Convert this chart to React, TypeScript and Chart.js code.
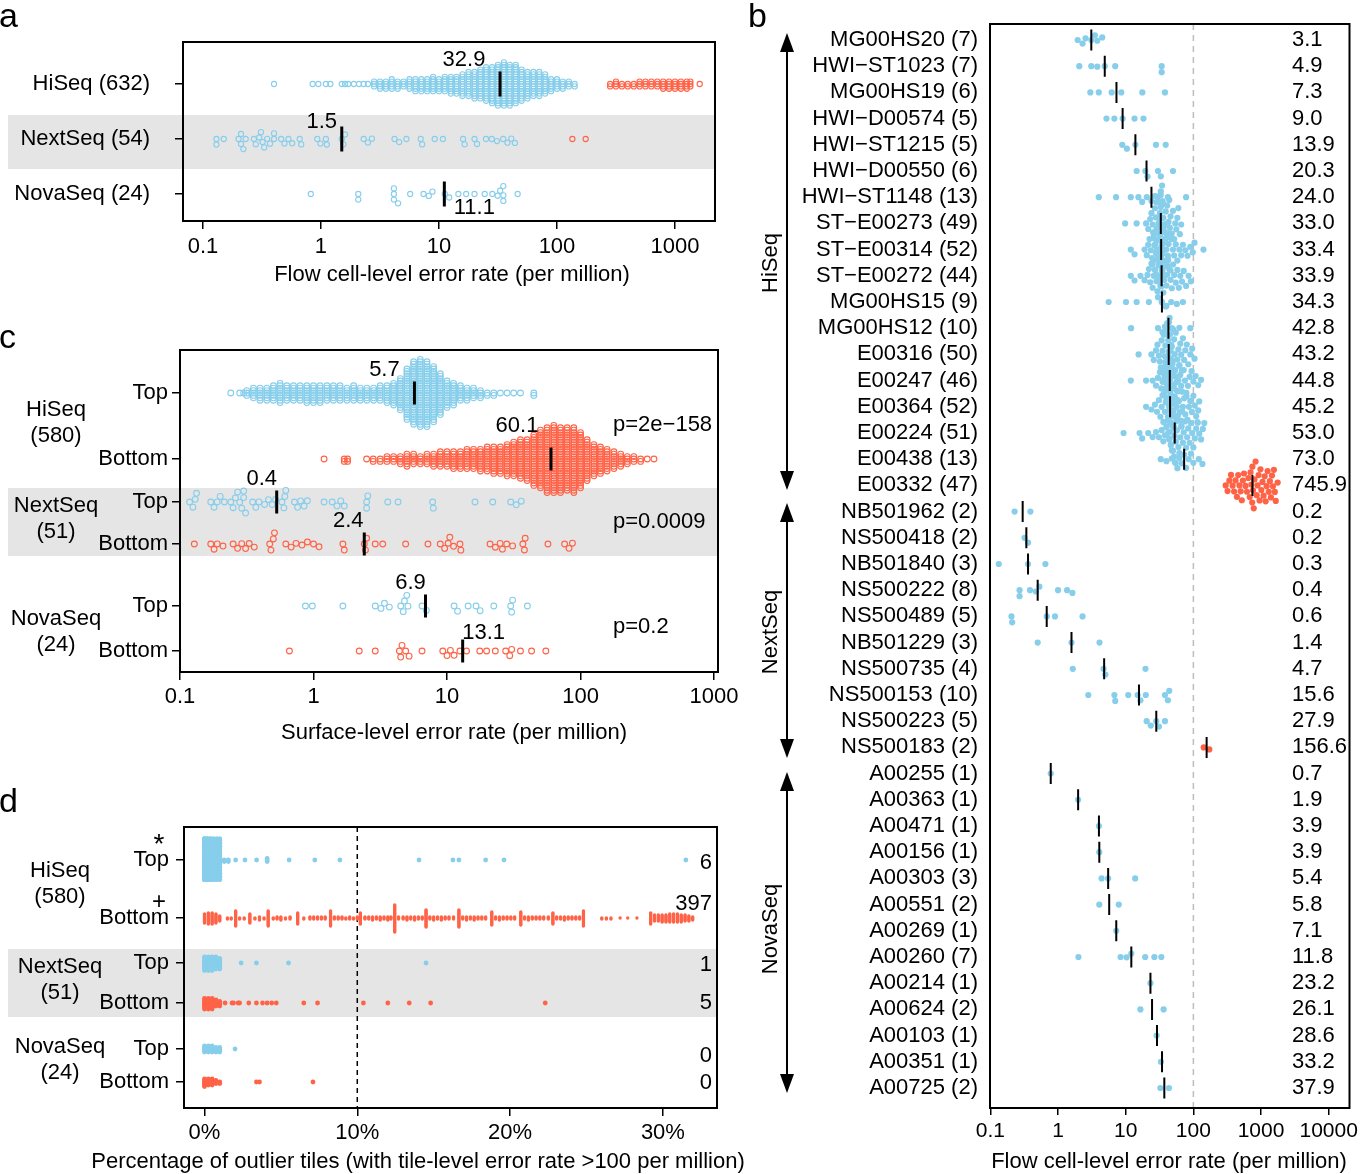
import React, { useEffect, useRef } from "react";
import { Chart, registerables } from "chart.js";

Chart.register(...registerables);

const FONT = '"Liberation Sans", Arial, Helvetica, sans-serif';
Chart.defaults.font.family = FONT;
Chart.defaults.font.size = 22;
Chart.defaults.color = "#000";

const BLUE = "#87CEEB";
const RED = "#FF6347";
const BAND = "#E5E5E5";

/* ======================= DATA ======================= */

/* ---- panel a : flow cell-level error rate per platform ---- */
const aRowLabels = ["HiSeq (632)", "NextSeq (54)", "NovaSeq (24)"];
const aMedians = [32.9, 1.5, 11.1];
const aMedianLabels = ["32.9", "1.5", "11.1"];
const aTicks = [0.1, 1, 10, 100, 1000];
const aTickLabels = ["0.1", "1", "10", "100", "1000"];
const aTitle = "Flow cell-level error rate (per million)";
// HiSeq: frequency table (value, number of flow cells)
const aHiSeqBlueValues = [0.4, 0.85, 0.95, 1.1, 1.2, 1.5, 1.6, 1.7, 1.9, 2.1, 2.3, 2.5, 2.82, 3.16, 3.55, 3.98, 4.47, 5.01, 5.62, 6.31, 7.08, 7.94, 8.91, 10, 11.2, 12.6, 14.1, 15.8, 17.8, 20, 22.4, 25.1, 28.2, 31.6, 35.5, 39.8, 44.7, 50.1, 56.2, 63.1, 70.8, 79.4, 89.1, 100, 112, 126, 141];
const aHiSeqBlueCounts = [1, 1, 1, 1, 1, 1, 1, 1, 1, 1, 1, 1, 3, 4, 4, 5, 4, 3, 5, 6, 6, 6, 7, 6, 7, 8, 8, 10, 11, 12, 13, 15, 16, 18, 19, 18, 17, 14, 12, 11, 11, 9, 6, 5, 4, 3, 2];
const aHiSeqRedValues = [282, 316, 355, 398, 447, 501, 562, 631, 708, 794, 891, 1000, 1122, 1259, 1350, 1620];
const aHiSeqRedCounts = [2, 3, 2, 2, 2, 3, 3, 3, 3, 4, 4, 4, 4, 4, 3, 1];
const aNextSeqBlue = [0.13, 0.13, 0.15, 0.2, 0.21, 0.21, 0.22, 0.23, 0.27, 0.28, 0.3, 0.31, 0.32, 0.33, 0.35, 0.37, 0.4, 0.4, 0.46, 0.49, 0.53, 0.57, 0.66, 0.68, 0.93, 0.99, 1.1, 1.12, 1.5, 1.55, 1.6, 2.3, 2.5, 2.7, 4.2, 4.6, 5.3, 7.0, 7.2, 9.2, 10.8, 16, 16.5, 20, 21, 25, 28, 31, 35, 38, 41, 44];
const aNextSeqRed = [135, 175];
const aNovaSeqBlue = [0.82, 2.07, 2.07, 4.15, 4.15, 4.15, 4.5, 5.7, 7.4, 8.2, 8.8, 11.2, 12.2, 14.6, 17, 20, 24.4, 28.3, 31.4, 33, 35.1, 35.1, 35.1, 46.4];

/* ---- panel c : surface-level error rate ---- */
const cRowLabels = ["Top", "Bottom", "Top", "Bottom", "Top", "Bottom"];
const cGroupNames = ["HiSeq", "NextSeq", "NovaSeq"];
const cGroupN = ["(580)", "(51)", "(24)"];
const cPValues = ["p=2e\u2212158", "p=0.0009", "p=0.2"];
const cMedians = [5.7, 60.1, 0.53, 2.4, 6.9, 13.1];
const cMedianLabels = ["5.7", "60.1", "0.4", "2.4", "6.9", "13.1"];
const cTicks = [0.1, 1, 10, 100, 1000];
const cTickLabels = ["0.1", "1", "10", "100", "1000"];
const cTitle = "Surface-level error rate (per million)";
const cHiSeqTopValues = [0.24, 0.28, 0.3, 0.316, 0.355, 0.398, 0.447, 0.501, 0.562, 0.631, 0.708, 0.794, 0.891, 1.0, 1.12, 1.26, 1.41, 1.58, 1.78, 2.0, 2.24, 2.51, 2.82, 3.16, 3.55, 3.98, 4.47, 5.01, 5.62, 6.31, 7.08, 7.94, 8.91, 10, 11.2, 12.6, 14.1, 15.8, 17.8, 20, 22.4, 25.1, 28.2, 31.6, 35.5, 44.7];
const cHiSeqTopCounts = [1, 1, 1, 3, 5, 6, 6, 7, 9, 7, 7, 7, 8, 8, 8, 7, 7, 7, 6, 7, 6, 6, 6, 7, 8, 10, 14, 22, 27, 29, 28, 24, 18, 12, 10, 7, 6, 5, 4, 2, 2, 1, 1, 1, 1, 2];
const cHiSeqBottomValues = [1.2, 1.7, 1.8, 2.5, 2.8, 3.16, 3.55, 3.98, 4.47, 5.01, 5.62, 6.31, 7.08, 7.94, 8.91, 10, 11.2, 12.6, 14.1, 15.8, 17.8, 20, 22.4, 25.1, 28.2, 31.6, 35.5, 39.8, 44.7, 50.1, 56.2, 63.1, 70.8, 79.4, 89.1, 100, 112, 126, 141, 158, 178, 200, 224, 251, 282, 316, 355];
const cHiSeqBottomCounts = [1, 2, 2, 1, 2, 2, 3, 3, 4, 6, 5, 4, 5, 6, 7, 7, 8, 8, 9, 9, 10, 11, 12, 12, 14, 15, 17, 18, 22, 25, 28, 29, 28, 27, 28, 24, 18, 14, 12, 10, 8, 6, 4, 3, 2, 1, 1];
const cNextSeqTop = [0.118, 0.125, 0.13, 0.133, 0.17, 0.18, 0.19, 0.2, 0.215, 0.24, 0.25, 0.26, 0.27, 0.28, 0.29, 0.3, 0.3, 0.31, 0.35, 0.37, 0.39, 0.43, 0.46, 0.49, 0.52, 0.58, 0.6, 0.61, 0.62, 0.72, 0.76, 0.8, 0.85, 0.9, 1.2, 1.38, 1.5, 1.6, 1.7, 2.5, 2.5, 2.55, 3.6, 4.3, 7.8, 7.9, 16.2, 22, 30, 33, 36];
const cNextSeqBottom = [0.128, 0.17, 0.18, 0.19, 0.21, 0.25, 0.27, 0.29, 0.31, 0.33, 0.36, 0.47, 0.48, 0.5, 0.51, 0.62, 0.68, 0.74, 0.82, 0.9, 1.0, 1.1, 1.66, 1.7, 2.4, 2.45, 2.5, 2.9, 3.3, 4.9, 7.2, 8.9, 9.6, 10.2, 10.5, 11.2, 12.5, 12.7, 21, 23, 25, 26, 28, 31, 37, 38, 38.5, 57, 76, 82, 87];
const cNovaSeqTop = [0.87, 0.98, 1.66, 2.9, 3.2, 3.4, 3.7, 4.5, 4.7, 4.8, 5.0, 5.1, 6.5, 7.0, 11.3, 12.0, 14.4, 16.5, 17.7, 22.4, 30, 30.5, 31, 40];
const cNovaSeqBottom = [0.66, 2.2, 2.9, 4.4, 4.5, 4.6, 4.9, 5.2, 6.5, 9.3, 10.0, 10.6, 11.3, 12.5, 14.0, 17.6, 19.8, 23.0, 27.5, 29.5, 30.5, 35.5, 43, 55];

/* ---- panel d : percentage of outlier tiles ---- */
const dRowLabels = ["Top", "Bottom", "Top", "Bottom", "Top", "Bottom"];
const dGroupNames = ["HiSeq", "NextSeq", "NovaSeq"];
const dGroupN = ["(580)", "(51)", "(24)"];
const dOutlierCounts = ["6", "397", "1", "5", "0", "0"];
const dTicks = [0, 10, 20, 30];
const dTickLabels = ["0%", "10%", "20%", "30%"];
const dThreshold = 10;
const dTitle = "Percentage of outlier tiles (with tile-level error rate >100 per million)";
const dHiSeqTopValues = [0, 0.2, 0.4, 0.6, 0.8, 1.0, 1.29, 1.56, 2.04, 2.65, 3.41, 4.1, 5.54, 7.22, 8.86, 14.04, 16.26, 16.65, 18.4, 19.6, 31.5];
const dHiSeqTopCounts = [160, 120, 100, 80, 60, 41, 2, 2, 1, 1, 1, 3, 1, 1, 1, 1, 1, 1, 1, 1, 1];
const dHiSeqBottomValues = [
  0, 0.25, 0.5, 0.75, 1.0, 1.5, 1.75, 2.04, 2.3, 2.6,
  2.97, 3.3, 3.6, 3.9, 4.17, 4.5, 4.75, 5.0, 5.3, 5.6,
  6.1, 6.5, 6.9, 7.15, 7.4, 7.65, 7.9, 8.25, 8.5, 8.75,
  9.0, 9.25, 9.5, 9.75,
  10.0, 10.2, 10.5, 10.75, 11.0, 11.25, 11.5, 11.75, 12.0, 12.2,
  12.45, 12.7, 13.0, 13.25, 13.5, 13.75, 14.0, 14.25, 14.5, 14.75,
  15.0, 15.25, 15.5, 15.75, 16.0, 16.3, 16.65, 16.9, 17.15, 17.4,
  17.65, 17.9, 18.15, 18.4, 18.8, 19.05, 19.3, 19.55, 19.8, 20.05,
  20.3, 20.7, 20.95, 21.2, 21.45, 21.7, 21.95, 22.2, 22.5, 22.8,
  23.05, 23.3, 23.55, 23.8, 24.05, 24.3, 24.55, 24.8, 26.0, 26.3,
  26.6, 27.2, 27.7, 28.3, 29.2, 29.45, 29.7, 29.95, 30.2, 30.45,
  30.7, 30.95, 31.2, 31.45, 31.7, 31.95,
];
const dHiSeqBottomCounts = [
  10, 12, 12, 10, 6, 2, 2, 16, 2, 2,
  10, 2, 4, 2, 16, 2, 3, 4, 2, 3,
  12, 2, 3, 3, 3, 3, 3, 16, 3, 3,
  3, 2, 3, 2,
  3, 12, 3, 3, 4, 3, 4, 3, 4, 3,
  28, 3, 3, 4, 3, 4, 3, 3, 18, 3,
  4, 3, 4, 3, 3, 3, 18, 3, 4, 3,
  4, 3, 3, 3, 14, 3, 4, 3, 3, 3,
  3, 14, 3, 4, 3, 3, 3, 3, 3, 12,
  3, 3, 4, 3, 3, 3, 3, 16, 2, 2,
  2, 1, 1, 1, 12, 7, 7, 8, 8, 9,
  9, 9, 8, 7, 6, 4,
];
const dNextSeqTopValues = [0, 0.25, 0.5, 0.75, 1.0, 2.4, 3.4, 5.5, 14.5];
const dNextSeqTopCounts = [10, 10, 10, 9, 8, 1, 1, 1, 1];
const dNextSeqBottomValues = [0, 0.25, 0.5, 0.75, 1.0, 1.35, 1.8, 1.9, 2.2, 2.3, 2.9, 3.4, 3.8, 4.1, 4.4, 4.7, 6.5, 7.4, 10.4, 12.0, 13.4, 14.8, 22.3];
const dNextSeqBottomCounts = [8, 8, 8, 5, 4, 1, 1, 1, 1, 1, 1, 1, 1, 1, 1, 1, 1, 1, 1, 1, 1, 1, 1];
const dNovaSeqTopValues = [0, 0.25, 0.5, 0.75, 1.0, 2.0];
const dNovaSeqTopCounts = [5, 5, 5, 4, 4, 1];
const dNovaSeqBottomValues = [0, 0.25, 0.5, 0.75, 1.0, 3.4, 3.6, 7.1];
const dNovaSeqBottomCounts = [6, 5, 5, 3, 2, 1, 1, 1];

/* ---- panel b : per instrument ---- */
const bNames = ["MG00HS20", "HWI\u2212ST1023", "MG00HS19", "HWI\u2212D00574", "HWI\u2212ST1215", "HWI\u2212D00550", "HWI\u2212ST1148", "ST\u2212E00273", "ST\u2212E00314", "ST\u2212E00272", "MG00HS15", "MG00HS12", "E00316", "E00247", "E00364", "E00224", "E00438", "E00332", "NB501962", "NS500418", "NB501840", "NS500222", "NS500489", "NB501229", "NS500735", "NS500153", "NS500223", "NS500183", "A00255", "A00363", "A00471", "A00156", "A00303", "A00551", "A00269", "A00260", "A00214", "A00624", "A00103", "A00351", "A00725"];
const bCounts = [7, 7, 6, 5, 5, 6, 13, 49, 52, 44, 9, 10, 50, 46, 52, 51, 13, 47, 2, 2, 3, 8, 5, 3, 4, 10, 5, 2, 1, 1, 1, 1, 3, 2, 1, 7, 1, 2, 1, 1, 2];
const bMedianLabels = ["3.1", "4.9", "7.3", "9.0", "13.9", "20.3", "24.0", "33.0", "33.4", "33.9", "34.3", "42.8", "43.2", "44.8", "45.2", "53.0", "73.0", "745.9", "0.2", "0.2", "0.3", "0.4", "0.6", "1.4", "4.7", "15.6", "27.9", "156.6", "0.7", "1.9", "3.9", "3.9", "5.4", "5.8", "7.1", "11.8", "23.2", "26.1", "28.6", "33.2", "37.9"];
const bMedians = [3.1, 4.9, 7.3, 9.0, 13.9, 20.3, 24.0, 33.0, 33.4, 33.9, 34.3, 42.8, 43.2, 44.8, 45.2, 53.0, 73.0, 745.9, 0.3, 0.34, 0.36, 0.5, 0.68, 1.58, 4.8, 15.7, 28.3, 157, 0.78, 1.98, 4.02, 4.07, 5.5, 5.7, 7.25, 12.1, 23.2, 24.5, 29, 34.4, 37.2];
const bOutliers = ["E00332", "NS500183"];
const bGroups = ["HiSeq", "NextSeq", "NovaSeq"];
const bTicks = [0.1, 1, 10, 100, 1000, 10000];
const bTickLabels = ["0.1", "1", "10", "100", "1000", "10000"];
const bThreshold = 100;
const bTitle = "Flow cell-level error rate (per million)";
const bPoints: number[][] = [
  [1.95, 2.3, 2.55, 3.1, 3.5, 3.8, 4.5],
  [2.06, 3.1, 3.8, 4.9, 7.0, 34, 34],
  [3.0, 4.0, 6.2, 8.6, 17.6, 38],
  [5.2, 6.8, 9.0, 13.5, 18.3],
  [8.9, 10.4, 13.9, 28, 39],
  [14.5, 19.5, 21, 30, 33, 50],
  [4.0, 7.2, 11.9, 15.4, 17.5, 20.5, 24, 27, 30, 33, 36, 42, 78],
  [9.8, 14.5, 20, 21.5, 23, 24, 25, 25.5, 26, 27, 27.5, 28, 28.5, 29, 29.5, 30, 30.5, 31, 31.5, 32, 32.5, 33, 33, 33.5, 34, 34.5, 35, 35.5, 36, 37, 37.5, 38, 39, 40, 41, 42, 43, 44, 45, 46, 48, 50, 52, 54, 56, 58, 60, 63, 66],
  [11.9, 13.5, 19, 20.5, 21.5, 22.5, 23.5, 24.5, 25, 26, 26.5, 27, 28, 28.5, 29, 29.5, 30, 30.5, 31, 31.5, 32, 32.5, 33, 33.5, 34, 34.5, 35, 36, 36.5, 37, 38, 39, 40, 41, 42, 43, 44, 46, 48, 50, 52, 55, 58, 62, 66, 70, 76, 82, 90, 98, 104, 141],
  [11.9, 13.5, 16.5, 19, 21, 22, 23, 24, 25, 26, 27, 28, 28.5, 29.5, 30, 31, 32, 32.5, 33, 33.5, 34, 34.5, 35, 36, 37, 38, 39, 40, 41, 42.5, 44, 46, 48, 50, 52, 55, 58, 61, 64, 68, 72, 78, 85, 92],
  [5.6, 10.1, 14.5, 22, 34.3, 40, 47, 57, 70],
  [12, 30, 35, 38, 42, 43.5, 48, 55, 62, 90],
  [15.5, 24, 26, 28, 29.5, 31, 32, 33, 34, 35, 36, 36.5, 37, 38, 38.5, 39, 40, 40.5, 41, 42, 42.5, 43, 43.5, 44, 44.5, 45, 46, 47, 48, 49, 50, 51, 52, 53, 54, 56, 58, 60, 62, 64, 66, 68, 70, 73, 76, 80, 84, 90, 96, 104],
  [11.9, 20, 25, 28, 30, 32, 33.5, 35, 36, 37, 38, 39, 40, 41, 42, 43, 43.5, 44, 44.5, 45, 45.5, 46, 47, 48, 49, 50, 51, 52, 54, 56, 58, 60, 62, 64, 66, 69, 72, 75, 79, 83, 88, 94, 100, 108, 118, 130],
  [20, 24, 27, 29, 31, 32.5, 34, 35, 36, 37, 38, 39, 40, 41, 42, 42.5, 43, 43.5, 44, 44.5, 45, 45.5, 46, 46.5, 47, 48, 49, 50, 51, 52, 53, 55, 57, 59, 61, 63, 65, 67, 70, 73, 76, 79, 82, 86, 90, 95, 100, 105, 110, 115, 118, 122],
  [9.3, 16, 17.5, 21.5, 25, 28, 31, 34, 36, 38, 40, 42, 44, 45, 46.5, 48, 49, 50, 51, 52, 52.5, 53, 53.5, 54, 55, 56, 57, 58, 59, 60, 62, 64, 66, 68, 70, 72, 75, 78, 81, 84, 88, 92, 96, 100, 105, 110, 116, 122, 130, 138, 145],
  [33, 40, 48, 55, 62, 68, 73, 78, 85, 92, 100, 120, 136],
  [300, 320, 340, 360, 380, 400, 420, 440, 460, 480, 500, 520, 540, 560, 590, 620, 650, 680, 700, 720, 740, 746, 760, 780, 800, 830, 860, 890, 920, 950, 980, 1010, 1050, 1090, 1130, 1170, 1210, 1250, 1300, 1350, 1400, 1450, 1500, 1550, 1600, 1650, 1760],
  [0.228, 0.39],
  [0.32, 0.36],
  [0.133, 0.36, 0.65],
  [0.27, 0.27, 0.385, 0.47, 0.53, 1.0, 1.36, 1.63],
  [0.205, 0.21, 0.68, 0.9, 2.3],
  [0.5, 1.58, 4.1],
  [1.65, 4.7, 5.0, 19.6],
  [2.8, 6.8, 7.0, 10.9, 15.0, 16.5, 19.8, 38, 42, 44],
  [20.4, 23.5, 28.3, 31, 38],
  [142, 172],
  [0.78],
  [1.98],
  [4.02],
  [4.07],
  [4.4, 5.5, 13.8],
  [4.07, 7.9],
  [7.25],
  [2.0, 8.4, 10.3, 12.1, 19.4, 26.5, 33.6],
  [23.2],
  [16.5, 36.3],
  [28.6],
  [33.2],
  [32.5, 43.5],
];

/* ======================= HELPERS ======================= */

function expand(values: number[], counts: number[]): number[] {
  const out: number[] = [];
  values.forEach((v, i) => {
    for (let k = 0; k < counts[i]; k++) out.push(v);
  });
  return out;
}

// beeswarm layout: vertical pixel offsets so that points keep >= gap px apart
function swarm(px: number[], gap: number, corral?: number): number[] {
  const order = px.map((_, i) => i).sort((a, b) => px[a] - px[b]);
  const xs: number[] = [];
  const ys: number[] = [];
  const out: number[] = new Array(px.length).fill(0);
  const g2 = gap * gap;
  for (const i of order) {
    const x = px[i];
    const near: number[] = [];
    for (let j = xs.length - 1; j >= 0; j--) {
      if (x - xs[j] >= gap) break;
      near.push(j);
    }
    const cands = [0];
    for (const j of near) {
      const dx = x - xs[j];
      const dy = Math.sqrt(Math.max(0, g2 - dx * dx));
      cands.push(ys[j] + dy, ys[j] - dy);
    }
    cands.sort((a, b) => Math.abs(a) - Math.abs(b) || b - a);
    let y = 0;
    for (const c of cands) {
      let ok = true;
      for (const j of near) {
        const dx = x - xs[j];
        const dy = c - ys[j];
        if (dx * dx + dy * dy < g2 - 1e-6) {
          ok = false;
          break;
        }
      }
      if (ok) {
        y = c;
        break;
      }
    }
    xs.push(x);
    ys.push(y);
    out[i] = y;
  }
  if (corral) {
    for (let k = 0; k < out.length; k++) {
      const w = 2 * corral;
      out[k] = (((out[k] + corral) % w) + w) % w - corral;
    }
  }
  return out;
}

function drawText(ctx: CanvasRenderingContext2D, s: string, x: number, y: number, align: CanvasTextAlign = "center", size = 22, baseline: CanvasTextBaseline = "middle") {
  ctx.save();
  ctx.font = `${size}px ${FONT}`;
  ctx.fillStyle = "#000";
  ctx.textAlign = align;
  ctx.textBaseline = baseline;
  ctx.fillText(s, x, y);
  ctx.restore();
}

type Series = { values: number[]; row: number; color: string; filled: boolean; radius: number; border: number; gap: number; corral?: number };
type Median = { value: number; row: number; half: number; width: number };
type Spec = {
  left: number; top: number; width: number; height: number;
  box: { l: number; t: number; r: number; b: number };
  xType: "logarithmic" | "linear"; xMin: number; xMax: number;
  xTicks: number[]; xTickLabels: string[]; xTickLen: number; xLabelPad: number; xTickFont: number;
  rows: number[]; rowLabels: string[]; yTickLen: number; yLabelPad: number; yFont: number;
  series: Series[]; medians: Median[]; bands: number[][];
  under?: (chart: any, ctx: CanvasRenderingContext2D) => void;
  decorate: (chart: any, ctx: CanvasRenderingContext2D) => void;
};

function zeroPad(s: any) {
  s.paddingLeft = 0;
  s.paddingRight = 0;
  s.paddingTop = 0;
  s.paddingBottom = 0;
}

function buildChart(canvas: HTMLCanvasElement, spec: Spec): Chart {
  const datasets: any[] = [];
  spec.medians.forEach((m) =>
    datasets.push({
      data: [{ x: m.value, y: m.row }],
      pointStyle: "line",
      pointRotation: 90,
      pointRadius: m.half,
      pointHoverRadius: m.half,
      pointBorderColor: "#000",
      pointBackgroundColor: "#000",
      pointBorderWidth: m.width,
      pointHoverBorderWidth: m.width,
      order: 0,
    })
  );
  spec.series.forEach((s) =>
    datasets.push({
      data: s.values.map((v) => ({ x: v, y: s.row })),
      pointStyle: "circle",
      pointRadius: s.radius,
      pointHoverRadius: s.radius,
      pointBorderWidth: s.border,
      pointHoverBorderWidth: s.border,
      pointBorderColor: s.color,
      pointBackgroundColor: s.filled ? s.color : "rgba(0,0,0,0)",
      order: 1,
    })
  );
  const plotH = spec.box.b - spec.box.t;
  const chart = new Chart(canvas, {
    type: "scatter",
    data: { datasets },
    options: {
      responsive: false,
      animation: false,
      events: [],
      layout: { padding: { left: 0, top: spec.box.t, right: spec.width - spec.box.r, bottom: 0 } },
      plugins: { legend: { display: false }, tooltip: { enabled: false } },
      scales: {
        x: {
          type: spec.xType,
          position: "bottom",
          min: spec.xMin,
          max: spec.xMax,
          afterBuildTicks: (s: any) => {
            s.ticks = spec.xTicks.map((v) => ({ value: v }));
          },
          afterFit: (s: any) => {
            s.height = spec.height - spec.box.b;
            zeroPad(s);
          },
          ticks: {
            autoSkip: false,
            maxRotation: 0,
            minRotation: 0,
            padding: spec.xLabelPad,
            color: "#000",
            font: { family: FONT, size: spec.xTickFont },
            callback: (_v: any, i: number) => spec.xTickLabels[i],
          },
          grid: { display: true, drawOnChartArea: false, drawTicks: true, tickLength: spec.xTickLen, color: "#000", lineWidth: 1.5 },
          border: { display: false },
        },
        y: {
          type: "linear",
          min: 0,
          max: plotH,
          reverse: true,
          afterBuildTicks: (s: any) => {
            s.ticks = spec.rows.map((v) => ({ value: v }));
          },
          afterFit: (s: any) => {
            s.width = spec.box.l;
            zeroPad(s);
          },
          ticks: {
            autoSkip: false,
            padding: spec.yLabelPad,
            color: "#000",
            font: { family: FONT, size: spec.yFont },
            callback: (_v: any, i: number) => spec.rowLabels[i],
          },
          grid: {
            display: spec.yTickLen > 0,
            drawOnChartArea: false,
            drawTicks: spec.yTickLen > 0,
            tickLength: spec.yTickLen,
            color: "#000",
            lineWidth: 1.5,
          },
          border: { display: false },
        },
      },
    } as any,
    plugins: [
      {
        id: "deco",
        beforeDraw: (c: any) => {
          const ctx = c.ctx;
          const ys = c.scales.y;
          ctx.save();
          ctx.fillStyle = BAND;
          spec.bands.forEach(([a, b]) => {
            const y1 = ys.getPixelForValue(a);
            const y2 = ys.getPixelForValue(b);
            ctx.fillRect(8 - spec.left, y1, c.chartArea.right - (8 - spec.left), y2 - y1);
          });
          ctx.restore();
        },
        beforeDatasetsDraw: (c: any) => {
          if (spec.under) spec.under(c, c.ctx);
        },
        afterDraw: (c: any) => {
          const ctx = c.ctx;
          const ca = c.chartArea;
          ctx.save();
          ctx.strokeStyle = "#000";
          ctx.lineWidth = 2;
          ctx.strokeRect(ca.left, ca.top, ca.right - ca.left, ca.bottom - ca.top);
          ctx.restore();
          spec.decorate(c, ctx);
        },
      },
    ],
  });
  // beeswarm offsets computed through the chart's own x scale
  const xs = chart.scales.x;
  spec.series.forEach((s, k) => {
    const ds = chart.data.datasets[spec.medians.length + k];
    const px = s.values.map((v) => xs.getPixelForValue(v));
    const off = swarm(px, s.gap, s.corral);
    ds.data = s.values.map((v, i) => ({ x: v, y: s.row + off[i] }));
  });
  chart.update("none");
  return chart;
}

/* ======================= PANEL SPECS ======================= */

const aRows = [42, 97, 152];
const aLabelDx = [-36, -20, 30];
const aLabelDy = [-24, -17, 14];
const hollowA = { filled: false, radius: 2.6, border: 1.1 };

const specA: Spec = {
  left: 0, top: 0, width: 735, height: 300,
  box: { l: 183, t: 42, r: 715, b: 221 },
  xType: "logarithmic", xMin: 0.0677, xMax: 2183,
  xTicks: aTicks, xTickLabels: aTickLabels, xTickLen: 8, xLabelPad: 5, xTickFont: 22,
  rows: aRows, rowLabels: aRowLabels, yTickLen: 8, yLabelPad: 25, yFont: 22,
  series: [
    { values: expand(aHiSeqBlueValues, aHiSeqBlueCounts), row: aRows[0], color: BLUE, ...hollowA, gap: 2.4 },
    { values: expand(aHiSeqRedValues, aHiSeqRedCounts), row: aRows[0], color: RED, ...hollowA, gap: 2.4 },
    { values: aNextSeqBlue, row: aRows[1], color: BLUE, ...hollowA, gap: 5.6 },
    { values: aNextSeqRed, row: aRows[1], color: RED, ...hollowA, gap: 5.6 },
    { values: aNovaSeqBlue, row: aRows[2], color: BLUE, ...hollowA, gap: 5.6 },
  ],
  medians: aMedians.map((m, i) => ({ value: m, row: aRows[i], half: 12.5, width: 3 })),
  bands: [[73, 127]],
  decorate: (c, ctx) => {
    const xs = c.scales.x;
    const ys = c.scales.y;
    drawText(ctx, "a", -1, 27, "left", 34, "alphabetic");
    aMedians.forEach((m, i) =>
      drawText(ctx, aMedianLabels[i], xs.getPixelForValue(m) + aLabelDx[i], ys.getPixelForValue(aRows[i]) + aLabelDy[i])
    );
    drawText(ctx, aTitle, 452, 275);
  },
};

const cTopY = 305;
const cRows = [43, 109, 152, 194, 256, 301];
const cLabelDx = [-30, -34, -15, -16, -15, 21];
const cLabelDy = [-23, -33, -23, -23, -23, -18];
const hollowC = { filled: false, radius: 2.9, border: 1.1 };

const specC: Spec = {
  left: 0, top: cTopY, width: 740, height: 455,
  box: { l: 180, t: 45, r: 718, b: 367 },
  xType: "logarithmic", xMin: 0.1, xMax: 1071,
  xTicks: cTicks, xTickLabels: cTickLabels, xTickLen: 8, xLabelPad: 4, xTickFont: 22,
  rows: cRows, rowLabels: cRowLabels, yTickLen: 8, yLabelPad: 4, yFont: 22,
  series: [
    { values: expand(cHiSeqTopValues, cHiSeqTopCounts), row: cRows[0], color: BLUE, ...hollowC, gap: 2.4 },
    { values: expand(cHiSeqBottomValues, cHiSeqBottomCounts), row: cRows[1], color: RED, ...hollowC, gap: 2.4 },
    { values: cNextSeqTop, row: cRows[2], color: BLUE, ...hollowC, gap: 6.2 },
    { values: cNextSeqBottom, row: cRows[3], color: RED, ...hollowC, gap: 6.2 },
    { values: cNovaSeqTop, row: cRows[4], color: BLUE, ...hollowC, gap: 6.2 },
    { values: cNovaSeqBottom, row: cRows[5], color: RED, ...hollowC, gap: 6.2 },
  ],
  medians: cMedians.map((m, i) => ({ value: m, row: cRows[i], half: 11.5, width: 3 })),
  bands: [[138, 206]],
  decorate: (c, ctx) => {
    const xs = c.scales.x;
    const ys = c.scales.y;
    drawText(ctx, "c", -1, 43, "left", 34, "alphabetic");
    cMedians.forEach((m, i) =>
      drawText(ctx, cMedianLabels[i], xs.getPixelForValue(m) + cLabelDx[i], ys.getPixelForValue(cRows[i]) + cLabelDy[i])
    );
    const gy = [[410, 436], [506, 532], [619, 645]];
    cGroupNames.forEach((g, i) => {
      drawText(ctx, g, 56, gy[i][0] - cTopY);
      drawText(ctx, cGroupN[i], 56, gy[i][1] - cTopY);
    });
    const py = [425, 522, 627];
    cPValues.forEach((p, i) => drawText(ctx, p, 613, py[i] - cTopY, "left"));
    drawText(ctx, cTitle, 454, 733 - cTopY);
  },
};

const dTopY = 770;
const dRows = [33, 91, 136, 176, 222, 255];
const filledD = { filled: true, radius: 2.4, border: 0 };

const specD: Spec = {
  left: 0, top: dTopY, width: 750, height: 404,
  box: { l: 184, t: 57, r: 717, b: 338 },
  xType: "linear", xMin: -1.34, xMax: 33.54,
  xTicks: dTicks, xTickLabels: dTickLabels, xTickLen: 8, xLabelPad: 4, xTickFont: 22,
  rows: dRows, rowLabels: dRowLabels, yTickLen: 8, yLabelPad: 7, yFont: 22,
  series: [
    { values: expand(dHiSeqTopValues, dHiSeqTopCounts), row: dRows[0], color: BLUE, ...filledD, gap: 1.5, corral: 21 },
    { values: expand(dHiSeqBottomValues, dHiSeqBottomCounts), row: dRows[1], color: RED, filled: true, radius: 1.7, border: 0, gap: 1.0, corral: 15 },
    { values: expand(dNextSeqTopValues, dNextSeqTopCounts), row: dRows[2], color: BLUE, ...filledD, gap: 1.5, corral: 10 },
    { values: expand(dNextSeqBottomValues, dNextSeqBottomCounts), row: dRows[3], color: RED, ...filledD, gap: 1.5, corral: 10 },
    { values: expand(dNovaSeqTopValues, dNovaSeqTopCounts), row: dRows[4], color: BLUE, ...filledD, gap: 1.5, corral: 10 },
    { values: expand(dNovaSeqBottomValues, dNovaSeqBottomCounts), row: dRows[5], color: RED, ...filledD, gap: 1.5, corral: 10 },
  ],
  medians: [],
  bands: [[122, 190]],
  under: (c, ctx) => {
    const x = c.scales.x.getPixelForValue(dThreshold);
    ctx.save();
    ctx.strokeStyle = "#000";
    ctx.lineWidth = 1.5;
    ctx.setLineDash([5, 4]);
    ctx.beginPath();
    ctx.moveTo(x, c.chartArea.top);
    ctx.lineTo(x, c.chartArea.bottom);
    ctx.stroke();
    ctx.restore();
  },
  decorate: (c, ctx) => {
    drawText(ctx, "d", -1, 812 - dTopY, "left", 34, "alphabetic");
    const gy = [[871, 897], [967, 993], [1047, 1073]];
    dGroupNames.forEach((g, i) => {
      drawText(ctx, g, 60, gy[i][0] - dTopY);
      drawText(ctx, dGroupN[i], 60, gy[i][1] - dTopY);
    });
    drawText(ctx, "*", 159, 845 - dTopY, "center", 28);
    drawText(ctx, "+", 159, 902 - dTopY, "center", 24);
    const cy = [863, 904, 965, 1003, 1056, 1083];
    dOutlierCounts.forEach((s, i) => drawText(ctx, s, 712, cy[i] - dTopY, "right"));
    drawText(ctx, dTitle, 418, 1162 - dTopY);
  },
};

const bLeftX = 745;
const bRows = bNames.map((_, i) => 16 + i * 26.2);
const bArrows = [
  [33, 490, 263],
  [503, 758, 632],
  [772, 1093, 929],
];

const specB: Spec = {
  left: bLeftX, top: 0, width: 617, height: 1174,
  box: { l: 245, t: 24, r: 612, b: 1108 },
  xType: "logarithmic", xMin: 0.0987, xMax: 20290,
  xTicks: bTicks, xTickLabels: bTickLabels, xTickLen: 7, xLabelPad: 4, xTickFont: 21,
  rows: bRows, rowLabels: bNames.map((n, i) => `${n} (${bCounts[i]})`), yTickLen: 0, yLabelPad: 12, yFont: 22,
  series: bPoints.map((pts, i) => ({
    values: pts,
    row: bRows[i],
    color: bOutliers.includes(bNames[i]) ? RED : BLUE,
    filled: true,
    radius: 3.1,
    border: 0,
    gap: 6,
  })),
  medians: bMedians.map((m, i) => ({ value: m, row: bRows[i], half: 10.5, width: 2 })),
  bands: [],
  under: (c, ctx) => {
    const x = c.scales.x.getPixelForValue(bThreshold);
    ctx.save();
    ctx.strokeStyle = "#BEBEBE";
    ctx.lineWidth = 1.5;
    ctx.setLineDash([6, 5]);
    ctx.beginPath();
    ctx.moveTo(x, c.chartArea.top);
    ctx.lineTo(x, c.chartArea.bottom);
    ctx.stroke();
    ctx.restore();
  },
  decorate: (c, ctx) => {
    const ys = c.scales.y;
    drawText(ctx, "b", 3, 27, "left", 34, "alphabetic");
    bMedianLabels.forEach((s, i) => drawText(ctx, s, 547, ys.getPixelForValue(bRows[i]), "left"));
    const ax = 787 - bLeftX;
    ctx.save();
    ctx.strokeStyle = "#000";
    ctx.fillStyle = "#000";
    ctx.lineWidth = 2;
    bArrows.forEach(([y1, y2, ly], i) => {
      ctx.beginPath();
      ctx.moveTo(ax, y1 + 10);
      ctx.lineTo(ax, y2 - 10);
      ctx.stroke();
      ctx.beginPath();
      ctx.moveTo(ax, y1);
      ctx.lineTo(ax - 7, y1 + 19);
      ctx.lineTo(ax + 7, y1 + 19);
      ctx.closePath();
      ctx.fill();
      ctx.beginPath();
      ctx.moveTo(ax, y2);
      ctx.lineTo(ax - 7, y2 - 19);
      ctx.lineTo(ax + 7, y2 - 19);
      ctx.closePath();
      ctx.fill();
      ctx.save();
      ctx.translate(771 - bLeftX, ly);
      ctx.rotate(-Math.PI / 2);
      drawText(ctx, bGroups[i], 0, 0);
      ctx.restore();
    });
    ctx.restore();
    drawText(ctx, bTitle, 1169 - bLeftX, 1162);
  },
};

/* ======================= COMPONENTS ======================= */

function SwarmPanel({ spec }: { spec: Spec }) {
  const ref = useRef<HTMLCanvasElement>(null);
  useEffect(() => {
    const chart = buildChart(ref.current as HTMLCanvasElement, spec);
    return () => chart.destroy();
  }, [spec]);
  return (
    <canvas
      ref={ref}
      width={spec.width}
      height={spec.height}
      style={{ position: "absolute", left: spec.left, top: spec.top, width: spec.width, height: spec.height }}
    />
  );
}

export default function App() {
  return (
    <div style={{ position: "fixed", left: 0, top: 0, width: 1362, height: 1174, background: "#fff", overflow: "hidden" }}>
      <SwarmPanel spec={specA} />
      <SwarmPanel spec={specC} />
      <SwarmPanel spec={specD} />
      <SwarmPanel spec={specB} />
    </div>
  );
}
